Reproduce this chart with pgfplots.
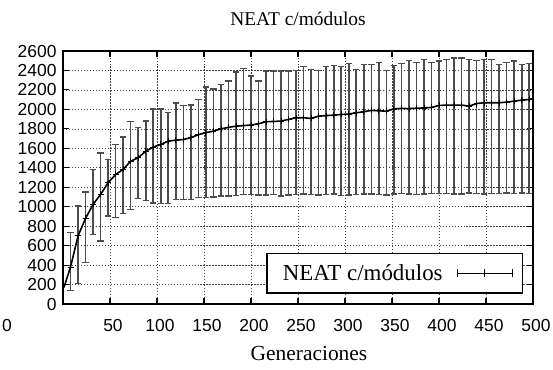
\documentclass[border=0pt]{standalone}
\usepackage{pgfplots}
\pgfplotsset{compat=1.18}
\usepackage{pgfplotstable}
\usepackage{fontspec}
\setmainfont{Liberation Serif}
\newfontfamily\sansf{Liberation Sans}
\usetikzlibrary{calc}

\pgfplotstableread{
g m L U
8 380 140 732
16 700 208 1006
24 880 424 1153
32 1023 715 1383
40 1126 647 1551
48 1246 903 1486
56 1331 886 1640
64 1383 927 1718
72 1468 972 1873
80 1503 1085 1811
88 1571 1064 1879
96 1612 1040 2006
104 1640 1033 2006
112 1674 1033 1965
120 1684 1074 2064
128 1690 1075 2040
136 1710 1075 2044
144 1740 1092 2102
152 1760 1092 2232
160 1777 1099 2210
168 1800 1109 2256
176 1815 1109 2290
184 1828 1116 2386
192 1833 1126 2420
200 1840 1126 2342
208 1852 1119 2290
216 1873 1119 2393
224 1876 1126 2393
232 1880 1109 2393
240 1897 1119 2393
248 1914 1126 2400
256 1914 1130 2438
264 1907 1128 2410
272 1931 1120 2400
280 1936 1125 2438
288 1941 1130 2451
296 1948 1118 2438
304 1952 1122 2472
312 1965 1128 2410
320 1975 1132 2462
328 1990 1130 2462
336 1985 1128 2479
344 1982 1122 2400
352 2005 1130 2451
360 2010 1135 2472
368 2008 1130 2503
376 2012 1128 2479
384 2015 1130 2513
392 2020 1133 2479
400 2040 1138 2496
408 2044 1135 2513
416 2044 1130 2530
424 2044 1132 2530
432 2034 1140 2513
440 2060 1135 2503
448 2068 1130 2513
456 2068 1138 2513
464 2068 1135 2462
472 2075 1140 2479
480 2085 1135 2496
488 2095 1140 2462
496 2102 1138 2472
}\bars

\pgfplotstableread{
g m
1 170
8 380
16 700
24 880
32 1023
40 1126
48 1246
56 1331
64 1383
72 1468
80 1503
88 1571
96 1612
104 1640
112 1674
120 1684
128 1690
136 1710
144 1740
152 1760
160 1777
168 1800
176 1815
184 1828
192 1833
200 1840
208 1852
216 1873
224 1876
232 1880
240 1897
248 1914
256 1914
264 1907
272 1931
280 1936
288 1941
296 1948
304 1952
312 1965
320 1975
328 1990
336 1985
344 1982
352 2005
360 2010
368 2008
376 2012
384 2015
392 2020
400 2040
408 2044
416 2044
424 2044
432 2034
440 2060
448 2068
456 2068
464 2068
472 2075
480 2085
488 2095
496 2102
500 2110
}\meanline

\begin{document}
\begin{tikzpicture}
\begin{axis}[
  name=ax,
  scale only axis,
  width=470bp, height=253bp,
  xmin=0, xmax=500, ymin=0, ymax=2600,
  xtick={50,100,...,500},
  ytick={0,200,...,2600},
  extra x ticks={0},
  extra x tick labels={0},
  extra x tick style={grid=none, xticklabel style={xshift=-59bp}},
  /pgf/number format/1000 sep={},
  /pgf/number format/assume math mode=true,
  ticklabel style={font=\sansf\fontsize{17.5}{18}\selectfont},
  xticklabel style={xshift=3bp, yshift=-12bp},
  yticklabel style={xshift=-3bp},
  tick align=inside,
  major tick length=6bp,
  tick style={black, line width=1.1pt},
  axis line style={line width=1.4pt},
  grid=major,
  major grid style={black!75, line width=0.6pt, dash pattern=on 1.4pt off 1.6pt},
  title={NEAT c/módulos},
  title style={font=\fontsize{19.5}{20}\selectfont, yshift=16bp},
  xlabel={Generaciones},
  xlabel style={font=\fontsize{21.5}{22}\selectfont, xshift=11bp, yshift=-8bp},
  legend plot pos=right,
  legend style={at={(0.979,0.04)}, anchor=south east, line width=1.4pt,
    font=\fontsize{23}{23}\selectfont, inner xsep=10bp, inner ysep=9bp,
    nodes={inner xsep=6bp},
    /tikz/every odd column/.append style={column sep=8bp}},
]
\addplot[forget plot, only marks, mark=+, mark size=3bp, mark options={black, line width=0.8pt},
  error bars/.cd, y dir=both, y explicit,
  error bar style={draw=black!70, line width=1.6pt},
  error mark options={draw=black!70, line width=1.4pt, mark size=3.2bp, rotate=90}]
  table[x=g, y=m, y error plus expr=\thisrow{U}-\thisrow{m}, y error minus expr=\thisrow{m}-\thisrow{L}] {\bars};
\addplot[black, line width=1.6pt,
  legend image code/.code={
    \draw[black, line width=0.8pt] (0bp,0bp) -- (55bp,0bp);
    \draw[black, line width=0.8pt] (0bp,-4bp) -- (0bp,4bp);
    \draw[black, line width=0.8pt] (27.5bp,-4bp) -- (27.5bp,4bp);
    \draw[black, line width=0.8pt] (55bp,-4bp) -- (55bp,4bp);
  }]
  table[x=g, y=m] {\meanline};
\addlegendentry{NEAT c/módulos}
\end{axis}
\pgfresetboundingbox
\path ($(ax.south west)+(-63bp,-65bp)$) rectangle ($(ax.north east)+(20bp,51bp)$);
\end{tikzpicture}
\end{document}
